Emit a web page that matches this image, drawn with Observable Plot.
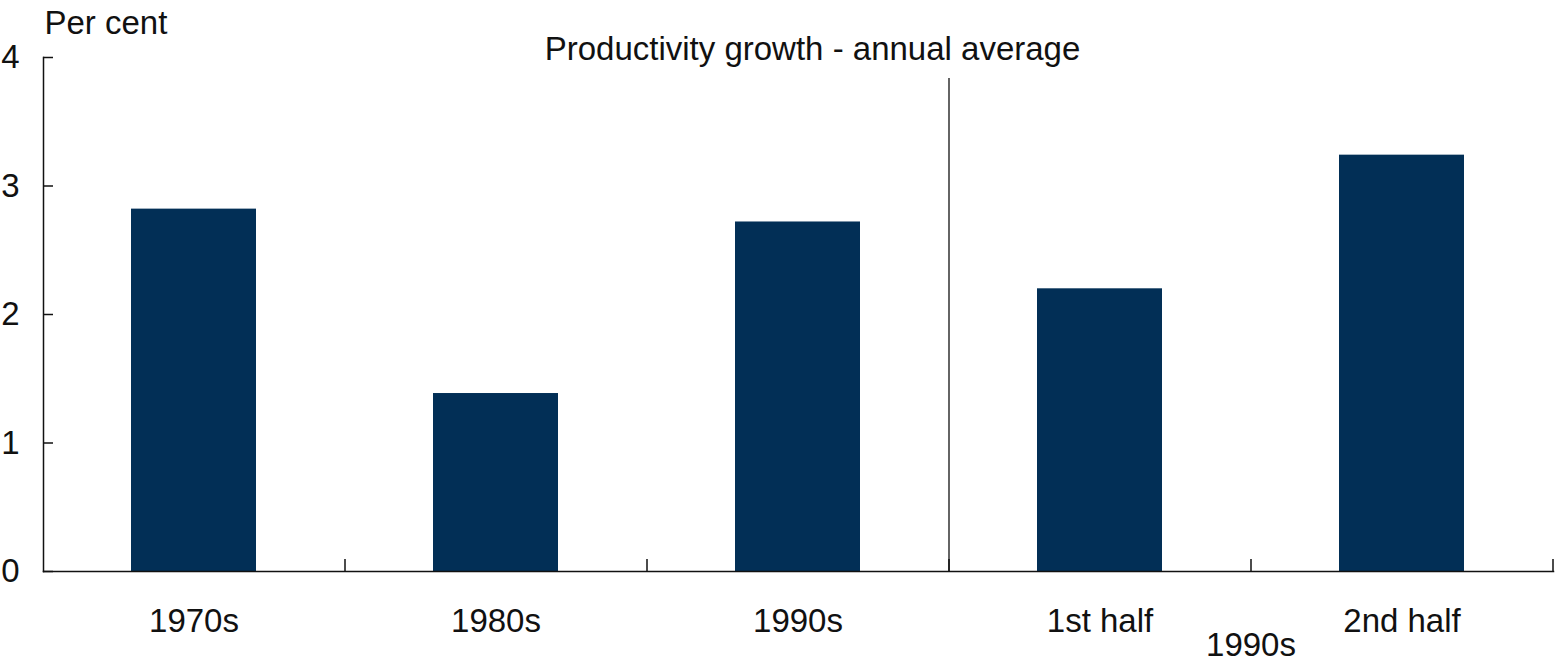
<!DOCTYPE html>
<html>
<head>
<meta charset="utf-8">
<script src="https://cdn.jsdelivr.net/npm/d3@7"></script>
<script src="https://cdn.jsdelivr.net/npm/@observablehq/plot@0.6"></script>
<style>
  html, body { margin: 0; padding: 0; background: #fff; }
</style>
</head>
<body>
<div id="chart"></div>
<script>
const categories = ["1970s", "1980s", "1990s", "1st half", "2nd half"];
const values = [2.82, 1.385, 2.72, 2.20, 3.24];
const yTicks = [0, 1, 2, 3, 4];
const title = "Productivity growth - annual average";
const unitLabel = "Per cent";
const groupLabel = "1990s";
const groupStart = "1990s";     // separator after this category
const groupLabelAfter = "1st half"; // group label sits after this category

const data = categories.map((c, i) => ({category: c, value: values[i]}));

const W = 1556, H = 665;
const mL = 43, mR = 3, mT = 57, mB = 94;
const step = (W - mL - mR) / categories.length;
const barColor = "#022f56";
const ink = "#111";

const chart = Plot.plot({
  width: W,
  height: H,
  marginLeft: mL,
  marginRight: mR,
  marginTop: mT,
  marginBottom: mB,
  style: {fontFamily: "'Liberation Sans', Arial, sans-serif", fontSize: "33px", color: ink, background: "#fff"},
  x: {type: "band", domain: categories, paddingInner: 0.586, paddingOuter: 0.293, label: null},
  y: {domain: [0, 4], label: null},
  marks: [
    Plot.barY(data, {x: "category", y: "value", fill: barColor}),
    // separator between full decades and halves
    Plot.ruleX([groupStart], {x: d => d, dx: step / 2, insetTop: 21, stroke: ink, strokeWidth: 1.3}),
    Plot.frame({anchor: "left", stroke: ink, strokeWidth: 1.5}),
    Plot.frame({anchor: "bottom", stroke: ink, strokeWidth: 1.5}),
    Plot.axisY({ticks: yTicks, tickSize: -10, tickPadding: 34, stroke: ink, strokeWidth: 1.5, fill: ink, label: null, tickFormat: d => d}),
    // boundary ticks on the x axis (pointing up)
    Plot.axisX({tickSize: -12, dx: step / 2, tickFormat: () => "", stroke: ink, strokeWidth: 1.5, label: null}),
    Plot.axisX({tickSize: 0, tickPadding: 37, fill: ink, label: null}),
    Plot.text([groupLabel], {x: () => groupLabelAfter, dx: step / 2, frameAnchor: "bottom", lineAnchor: "bottom", dy: 84, fill: ink}),
    Plot.text([unitLabel], {frameAnchor: "top-left", textAnchor: "start", lineAnchor: "bottom", dx: 1, dy: -24, fill: ink}),
    Plot.text([title], {frameAnchor: "top", lineAnchor: "bottom", dx: 14, dy: 2, fill: ink})
  ]
});
document.getElementById("chart").appendChild(chart);
</script>
</body>
</html>
